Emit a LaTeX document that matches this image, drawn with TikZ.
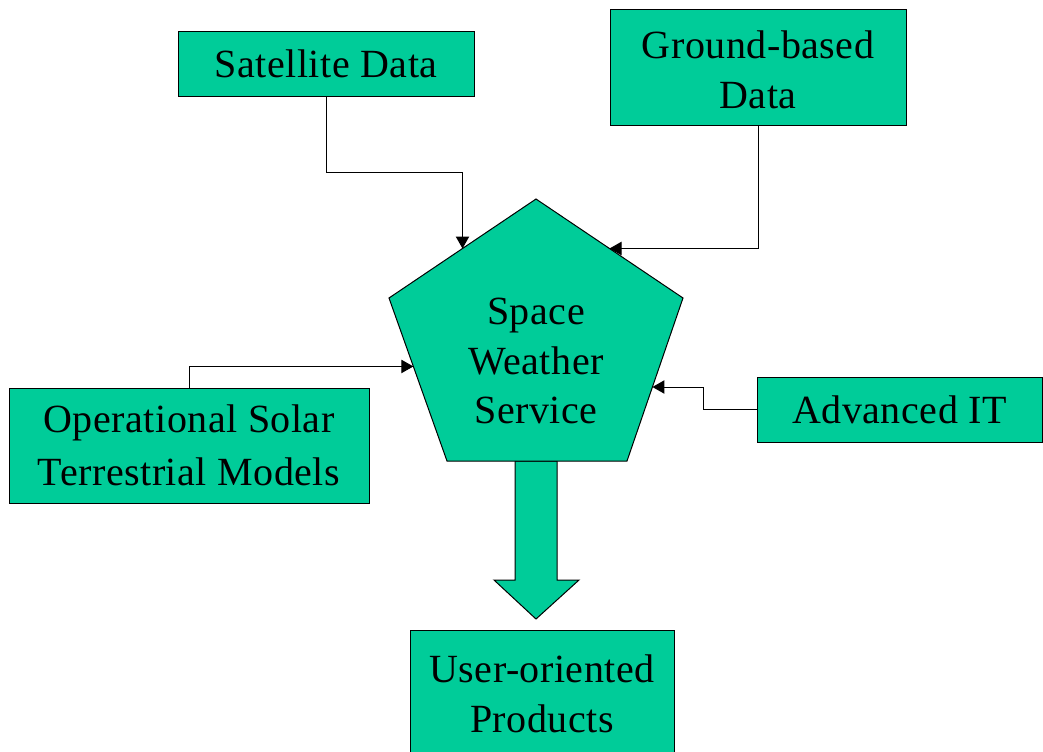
\documentclass[tikz,border=0pt]{standalone}
\usepackage{fontspec}
\setmainfont{Liberation Serif}[LetterSpace=1.3]
\usetikzlibrary{calc,arrows.meta}
\definecolor{swgreen}{RGB}{0,204,153}
\begin{document}
\begin{tikzpicture}[x=0.75pt,y=-0.75pt,
  box/.style={draw=black, line width=0.75pt, fill=swgreen, inner sep=0pt, align=center,
    font=\fontsize{30}{37.5}\selectfont},
  lbl/.style={inner sep=0pt, align=center, font=\fontsize{30}{37}\selectfont},
  conn/.style={line width=0.75pt, -{Triangle[length=9pt,width=10pt]}},
  greenshape/.style={draw=black, line width=0.75pt, fill=swgreen, line join=miter}]
\useasboundingbox (0,0) rectangle (1043,751);
\clip (0,0) rectangle (1043,751);

% input boxes
\node[box, minimum width=222pt, minimum height=48.75pt] (sat) at (326,63.5) {Satellite Data};
\node[box, minimum width=222pt, minimum height=87pt] (gnd) at (758,67) {};
\node[lbl, font=\fontsize{30}{37.5}\selectfont] (gndtext) at (758,69.5) {Ground-based\\Data};
\node[box, minimum width=270pt, minimum height=86.25pt, font=\fontsize{30}{40}\selectfont] (ops) at (189,445.5) {Operational Solar\\Terrestrial Models};
\node[box, minimum width=213.75pt, minimum height=48.75pt] (adv) at (899.5,409.5) {Advanced IT};
\node[box, minimum width=198pt, minimum height=96pt] (usr) at (542,694) {User-oriented\\Products};

% pentagon vertices
\coordinate (ptop) at (536,199);
\coordinate (pright) at (683,298);
\coordinate (pbr) at (627,461);
\coordinate (pbl) at (447,461);
\coordinate (pleft) at (389,298);

% block arrow to products
\draw[greenshape] (515,461) -- (515,580) -- (494,580) -- (536,619) -- (579,580) -- (557,580) -- (557,461) -- cycle;

% pentagon
\draw[greenshape] (ptop) -- (pright) -- (pbr) -- (pbl) -- (pleft) -- cycle;
\node[lbl] (sws) at (536,361) {Space\\Weather\\Service};

% connector end points on the pentagon
\coordinate (stip) at ($(ptop)!0.5!(pleft)$);
\coordinate (gtip) at ($(ptop)!0.5!(pright)$);
\coordinate (otip) at ($(pleft)!0.42!(pbl)$);
\coordinate (atip) at ($(pright)!0.546!(pbr)$);

% connectors
\draw[conn] (sat.south) -- ++(0,76) -| (stip);
\draw[conn] (gnd.south) |- (gtip);
\draw[conn] (ops.north) |- (otip);
\draw[conn] (adv.west) -- ++(-53,0) |- (atip);
\end{tikzpicture}
\end{document}
